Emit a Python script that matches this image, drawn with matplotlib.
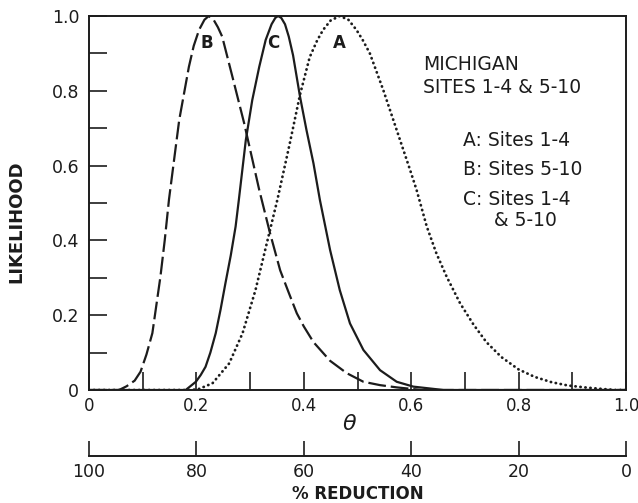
import matplotlib
matplotlib.use("Agg")
import matplotlib.pyplot as plt

# likelihood curves (theta, likelihood)
theta_a = [0.0, 0.19, 0.205, 0.23, 0.261, 0.286, 0.31, 0.329, 0.351, 0.374, 0.393,
           0.411, 0.425, 0.436, 0.45, 0.467, 0.483, 0.498, 0.51, 0.523, 0.548,
           0.573, 0.598, 0.61, 0.629, 0.647, 0.666, 0.691, 0.716, 0.74, 0.768,
           0.8, 0.83, 0.861, 0.892, 0.923, 0.954, 0.98, 1.0]
like_a = [0.0, 0.0, 0.003, 0.018, 0.071, 0.152, 0.267, 0.38, 0.51, 0.66, 0.79,
          0.89, 0.935, 0.963, 0.988, 1.0, 0.99, 0.963, 0.935, 0.9, 0.802,
          0.695, 0.588, 0.535, 0.437, 0.365, 0.303, 0.232, 0.175, 0.128, 0.088,
          0.055, 0.035, 0.021, 0.012, 0.007, 0.003, 0.0, 0.0]

theta_b = [0.0, 0.056, 0.07, 0.085, 0.096, 0.107, 0.118, 0.133, 0.141, 0.149,
           0.168, 0.186, 0.195, 0.205, 0.215, 0.223, 0.232, 0.24, 0.248, 0.267,
           0.289, 0.317, 0.337, 0.356, 0.372, 0.387, 0.40, 0.418, 0.449, 0.48,
           0.511, 0.542, 0.573, 0.62, 1.0]
like_b = [0.0, 0.0, 0.01, 0.025, 0.049, 0.095, 0.152, 0.303, 0.40, 0.51,
          0.722, 0.864, 0.92, 0.963, 0.99, 1.0, 0.99, 0.97, 0.945, 0.838,
          0.713, 0.535, 0.42, 0.32, 0.26, 0.205, 0.17, 0.128, 0.078, 0.045,
          0.022, 0.013, 0.007, 0.0, 0.0]

theta_c = [0.0, 0.18, 0.199, 0.208, 0.217, 0.226, 0.236, 0.245, 0.254, 0.264,
           0.273, 0.279, 0.292, 0.304, 0.317, 0.329, 0.34, 0.347, 0.352, 0.358,
           0.365, 0.372, 0.38, 0.393, 0.405, 0.418, 0.43, 0.449, 0.467, 0.486,
           0.511, 0.542, 0.573, 0.604, 0.66, 1.0]
like_c = [0.0, 0.0, 0.022, 0.04, 0.062, 0.10, 0.152, 0.215, 0.285, 0.36,
          0.437, 0.508, 0.668, 0.775, 0.864, 0.936, 0.978, 0.995, 1.0, 0.995,
          0.978, 0.945, 0.895, 0.784, 0.695, 0.606, 0.508, 0.374, 0.267, 0.178,
          0.107, 0.053, 0.022, 0.009, 0.0, 0.0]

x_major = [0, 0.2, 0.4, 0.6, 0.8, 1.0]
x_labels = ["0", "0.2", "0.4", "0.6", "0.8", "1.0"]
x_minor = [0.1, 0.3, 0.5, 0.7, 0.9]
y_major = [0, 0.2, 0.4, 0.6, 0.8, 1.0]
y_labels = ["0", "0.2", "0.4", "0.6", "0.8", "1.0"]
y_minor = [0.1, 0.3, 0.5, 0.7, 0.9]
red_ticks = [100, 80, 60, 40, 20, 0]

plt.rcParams["font.family"] = ["DejaVu Sans"]
ink = "#1c1c1c"

fig = plt.figure(figsize=(6.38, 5.03), dpi=100)
ax = fig.add_axes([89 / 638, 1 - 390 / 503, 537 / 638, 374 / 503])

ax.plot(theta_a, like_a, color=ink, lw=2.0, linestyle=(0, (0.1, 1.7)),
        dash_capstyle="round")
ax.plot(theta_b, like_b, color=ink, lw=1.6, linestyle=(0, (8, 2.2)))
ax.plot(theta_c, like_c, color=ink, lw=1.6)

ax.set_xlim(0, 1)
ax.set_ylim(0, 1)
ax.set_xticks(x_major)
ax.set_xticklabels(x_labels)
ax.set_xticks(x_minor, minor=True)
ax.set_yticks(y_major)
ax.set_yticklabels(y_labels)
ax.set_yticks(y_minor, minor=True)
ax.tick_params(which="both", direction="in", length=13, width=1.2,
               color=ink, top=False, right=False)
ax.tick_params(axis="x", pad=5, labelsize=12, labelcolor=ink)
ax.tick_params(axis="y", pad=7, labelsize=12.5, labelcolor=ink)
for s in ax.spines.values():
    s.set_linewidth(1.4)
    s.set_color(ink)

ax.set_ylabel("LIKELIHOOD", fontsize=13, fontweight="bold", color=ink)
ax.yaxis.set_label_coords(-0.118, 0.45)
ax.text(0.485, -0.09, r"$\theta$", fontsize=16, ha="center", va="center",
        transform=ax.transAxes, color=ink)

# curve tags
ax.text(0.22, 0.928, "B", fontsize=12, fontweight="bold", ha="center", va="center", color=ink)
ax.text(0.344, 0.928, "C", fontsize=12, fontweight="bold", ha="center", va="center", color=ink)
ax.text(0.467, 0.928, "A", fontsize=12, fontweight="bold", ha="center", va="center", color=ink)

fs = 13.5
ax.text(0.622, 0.87, "MICHIGAN", fontsize=fs, va="center", color=ink)
ax.text(0.622, 0.808, "SITES 1-4 & 5-10", fontsize=fs, va="center", color=ink)
ax.text(0.696, 0.668, "A: Sites 1-4", fontsize=fs, va="center", color=ink)
ax.text(0.696, 0.589, "B: Sites 5-10", fontsize=fs, va="center", color=ink)
ax.text(0.696, 0.509, "C: Sites 1-4", fontsize=fs, va="center", color=ink)
ax.text(0.754, 0.452, "& 5-10", fontsize=fs, va="center", color=ink)

# percent reduction scale below
sec = ax.secondary_xaxis(-0.1765, functions=(lambda t: 100 * (1 - t),
                                             lambda r: 1 - r / 100))
sec.set_xticks(red_ticks)
sec.set_xticklabels([str(v) for v in red_ticks])
sec.tick_params(direction="in", length=11, width=1.2, color=ink, pad=5,
                labelsize=12.5, labelcolor=ink)
sec.spines["bottom"].set_linewidth(1.4)
sec.spines["bottom"].set_color(ink)
sec.set_xlabel("% REDUCTION", fontsize=12, fontweight="bold", labelpad=3, color=ink)

fig.savefig("out.png", dpi=100)
